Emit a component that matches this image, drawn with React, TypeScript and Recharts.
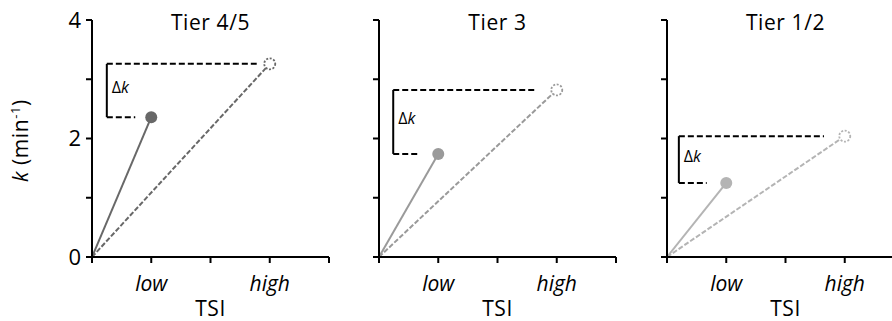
import { LineChart, Line, XAxis, YAxis, ReferenceLine, ReferenceArea, Label } from 'recharts';

const tiers = ['Tier 4/5', 'Tier 3', 'Tier 1/2'];
const tsiLow = 1;
const tsiHigh = 3;
const kLow = [2.36, 1.74, 1.25];
const kHigh = [3.26, 2.82, 2.04];
const xTicks = [0, 1, 2, 3, 4];
const xTickLabels = ['', 'low', '', 'high', ''];
const yTicks = [0, 1, 2, 3, 4];
const yTickLabels = ['0', '', '2', '', '4'];

// look of each panel
const lineColors = ['#686868', '#9a9a9a', '#b4b4b4'];
const panelLeft = [0, 287, 575];
const bracketX = [0.25, 0.24, 0.2];
const longDashEnd = [2.78, 2.66, 2.65];
const shortDashEnd = [0.73, 0.69, 0.67];

const FONT = '"Open Sans", sans-serif';

const YLabel = (props: any) => {
  const vb = props.viewBox;
  const cx = vb.x - 4;
  const cy = vb.y + vb.height / 2 + 2;
  return (
    <text x={cx} y={cy} transform={`rotate(-90, ${cx}, ${cy})`} textAnchor="middle" fontSize={21} fontWeight={500} fill="#000" fontFamily={FONT} letterSpacing={0.6}>
      <tspan fontStyle="italic">k</tspan>
      <tspan> (min</tspan>
      <tspan dy={-8} fontSize={13}>-1</tspan>
      <tspan dy={8}>)</tspan>
    </text>
  );
};

const XLabel = (props: any) => {
  const vb = props.viewBox;
  return (
    <text x={vb.x + vb.width / 2} y={vb.y + 59} textAnchor="middle" fontSize={21} fontWeight={500} fill="#000" fontFamily={FONT} letterSpacing={0.6}>
      TSI
    </text>
  );
};

const DeltaLabel = (props: any) => {
  const vb = props.viewBox;
  return (
    <text x={vb.x + 5} y={vb.y + vb.height / 2 + 2} fontSize={16} fill="#000" fontFamily={FONT}>
      Δ<tspan fontStyle="italic">k</tspan>
    </text>
  );
};

function Panel({ i }: { i: number }) {
  const color = lineColors[i];
  const lowData = [{ x: 0, k: 0 }, { x: tsiLow, k: kLow[i] }];
  const highData = [{ x: 0, k: 0 }, { x: tsiHigh, k: kHigh[i] }];
  return (
    <div style={{ position: 'absolute', left: panelLeft[i], top: 0 }}>
      <div style={{ position: 'absolute', left: 92, top: 8, width: 237, textAlign: 'center', fontFamily: FONT, fontSize: 21, fontWeight: 500, letterSpacing: 0.6, color: '#000', lineHeight: '28px' }}>
        {tiers[i]}
      </div>
      <LineChart width={339} height={321} margin={{ top: 20, right: 10, bottom: 0, left: 32 }}>
        <XAxis
          type="number"
          dataKey="x"
          domain={[0, 4]}
          ticks={xTicks}
          tickFormatter={(v: number) => xTickLabels[xTicks.indexOf(v)]}
          height={64}
          stroke="#000"
          strokeWidth={2}
          tickSize={6}
          tickMargin={13}
          tick={{ fontSize: 21, fontWeight: 500, fontStyle: 'italic', fill: '#000', fontFamily: FONT }}
          allowDataOverflow
        >
          <Label content={<XLabel />} />
        </XAxis>
        <YAxis
          type="number"
          domain={[0, 4]}
          ticks={yTicks}
          tickFormatter={(v: number) => (i === 0 ? yTickLabels[yTicks.indexOf(v)] : '')}
          width={60}
          stroke="#000"
          strokeWidth={2}
          tickSize={6}
          tickMargin={5}
          tick={{ fontSize: 22, fontWeight: 500, fill: '#000', fontFamily: FONT }}
          allowDataOverflow
        >
          {i === 0 && <Label content={<YLabel />} />}
        </YAxis>
        <ReferenceLine
          segment={[{ x: bracketX[i], y: kHigh[i] }, { x: longDashEnd[i], y: kHigh[i] }]}
          stroke="#000"
          strokeWidth={2}
          strokeDasharray="6 3"
        />
        <ReferenceLine
          segment={[{ x: bracketX[i], y: kLow[i] }, { x: shortDashEnd[i], y: kLow[i] }]}
          stroke="#000"
          strokeWidth={2}
          strokeDasharray="6 3"
        />
        <ReferenceLine
          segment={[{ x: bracketX[i], y: kLow[i] }, { x: bracketX[i], y: kHigh[i] }]}
          stroke="#000"
          strokeWidth={2}
        />
        <ReferenceArea x1={bracketX[i]} x2={bracketX[i] + 0.5} y1={kLow[i]} y2={kHigh[i]} fill="none" stroke="none">
          <Label content={<DeltaLabel />} />
        </ReferenceArea>
        <Line
          data={highData}
          dataKey="k"
          type="linear"
          stroke={color}
          strokeWidth={2}
          strokeDasharray="5 2"
          isAnimationActive={false}
          dot={(p: any) =>
            p.index === 1 ? (
              <circle key={`h${p.index}`} cx={p.cx} cy={p.cy} r={5.5} fill="#fff" stroke={color} strokeWidth={1.8} strokeDasharray="2 1.6" />
            ) : (
              <g key={`h${p.index}`} />
            )
          }
          activeDot={false}
        />
        <Line
          data={lowData}
          dataKey="k"
          type="linear"
          stroke={color}
          strokeWidth={2}
          isAnimationActive={false}
          dot={(p: any) =>
            p.index === 1 ? (
              <circle key={`l${p.index}`} cx={p.cx} cy={p.cy} r={6} fill={color} stroke="none" />
            ) : (
              <g key={`l${p.index}`} />
            )
          }
          activeDot={false}
        />
      </LineChart>
    </div>
  );
}

export default function App() {
  return (
    <div style={{ position: 'absolute', left: 0, top: 0, width: 892, height: 321, overflow: 'hidden', background: '#fff' }}>
      {tiers.map((t, i) => (
        <Panel key={t} i={i} />
      ))}
    </div>
  );
}
